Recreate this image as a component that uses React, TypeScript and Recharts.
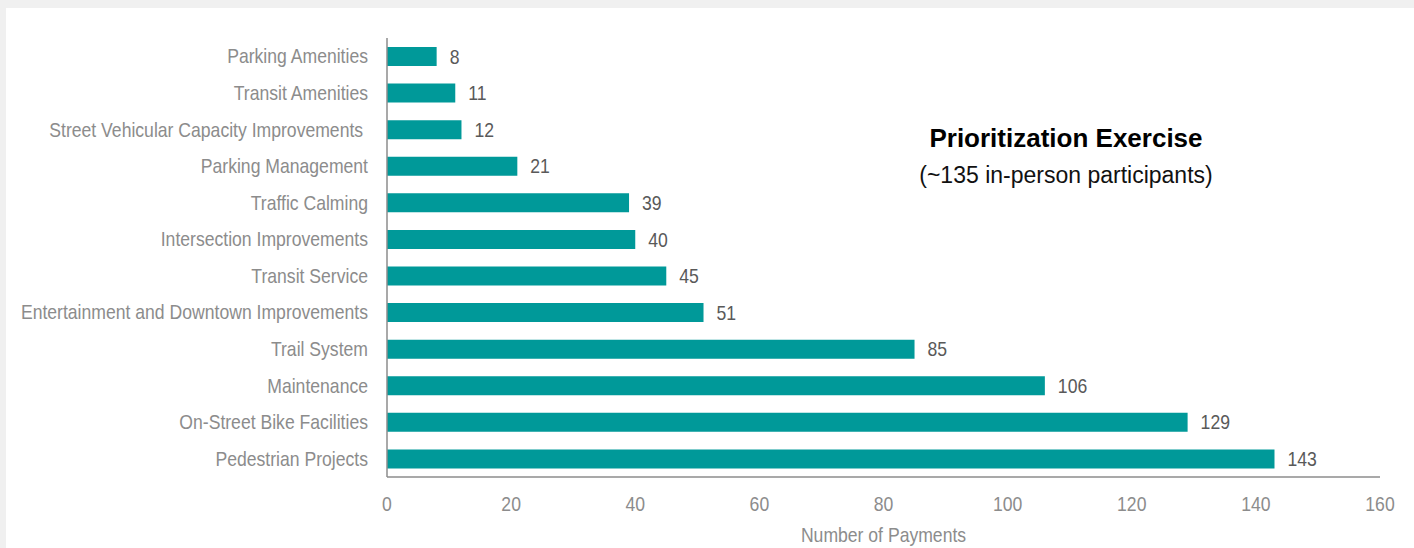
import React from 'react';
import { BarChart, Bar, XAxis, YAxis, LabelList } from 'recharts';

const categories = [
  'Parking Amenities',
  'Transit Amenities',
  'Street Vehicular Capacity Improvements ',
  'Parking Management',
  'Traffic Calming',
  'Intersection Improvements',
  'Transit Service',
  'Entertainment and Downtown Improvements',
  'Trail System',
  'Maintenance',
  'On-Street Bike Facilities',
  'Pedestrian Projects',
];
const payments = [8, 11, 12, 21, 39, 40, 45, 51, 85, 106, 129, 143];
const xTicks = [0, 20, 40, 60, 80, 100, 120, 140, 160];

const data = categories.map((name, i) => ({ name, value: payments[i] }));

const FONT = '"Liberation Sans", Arial, sans-serif';
const TEAL = '#009999';
const AXIS = '#8c8c8c';
const SQUEEZE = 0.88;

// the original uses a narrow font, so squeeze the text horizontally
const Narrow = ({ x, y, anchor, dy, fill, size = 20, children }: any) => (
  <text
    x={0}
    y={0}
    dy={dy}
    textAnchor={anchor}
    fill={fill}
    fontSize={size}
    fontFamily={FONT}
    style={{ whiteSpace: 'pre' }}
    transform={`translate(${x},${y}) scale(${SQUEEZE},1)`}
  >
    {children}
  </text>
);

const YTick = ({ x, y, payload }: any) => (
  <Narrow x={x} y={y} anchor="end" dy="0.355em" fill="#8c8c8c">{payload.value}</Narrow>
);

const XTick = ({ x, y, payload }: any) => (
  <Narrow x={x} y={y} anchor="middle" dy="0.71em" fill="#8c8c8c">{payload.value}</Narrow>
);

const ValueLabel = ({ x, y, width, height, value }: any) => (
  <Narrow x={x + width + 13} y={y + height / 2} anchor="start" dy="0.355em" fill="#595959">{value}</Narrow>
);

const AxisTitle = ({ viewBox }: any) => (
  <Narrow x={viewBox.x + viewBox.width / 2} y={viewBox.y + viewBox.height - 6} anchor="middle" fill="#8c8c8c">
    Number of Payments
  </Narrow>
);

const App: React.FC = () => {
  return (
    <div style={{ position: 'absolute', left: 0, top: 0, width: 1414, height: 548, background: '#f0f0f0', overflow: 'hidden' }}>
      <div style={{ position: 'absolute', left: 6, top: 8, width: 1408, height: 540, background: '#fff', fontFamily: FONT }}>
        <BarChart
          width={1408}
          height={540}
          data={data}
          layout="vertical"
          margin={{ top: 30, right: 34, bottom: 0, left: 0 }}
        >
          <XAxis
            type="number"
            domain={[0, 160]}
            ticks={xTicks}
            tickLine={false}
            tickSize={0}
            tickMargin={20}
            height={71}
            axisLine={{ stroke: AXIS, strokeWidth: 1.5 }}
            tick={<XTick />}
            label={{ content: <AxisTitle /> }}
          />
          <YAxis
            type="category"
            dataKey="name"
            width={381}
            tickLine={false}
            tickSize={0}
            tickMargin={19}
            interval={0}
            axisLine={{ stroke: AXIS, strokeWidth: 1.5 }}
            tick={<YTick />}
          />
          <Bar dataKey="value" fill={TEAL} barSize={19} isAnimationActive={false}>
            <LabelList dataKey="value" content={<ValueLabel />} />
          </Bar>
        </BarChart>
        <div style={{ position: 'absolute', left: 1060 - 200, top: 113, width: 400, textAlign: 'center', color: '#000' }}>
          <div style={{ fontSize: 26, fontWeight: 'bold', lineHeight: '34px' }}>Prioritization Exercise</div>
          <div style={{ fontSize: 23, lineHeight: '36px', marginTop: 2, color: '#111' }}>(~135 in-person participants)</div>
        </div>
      </div>
    </div>
  );
};

export default App;
